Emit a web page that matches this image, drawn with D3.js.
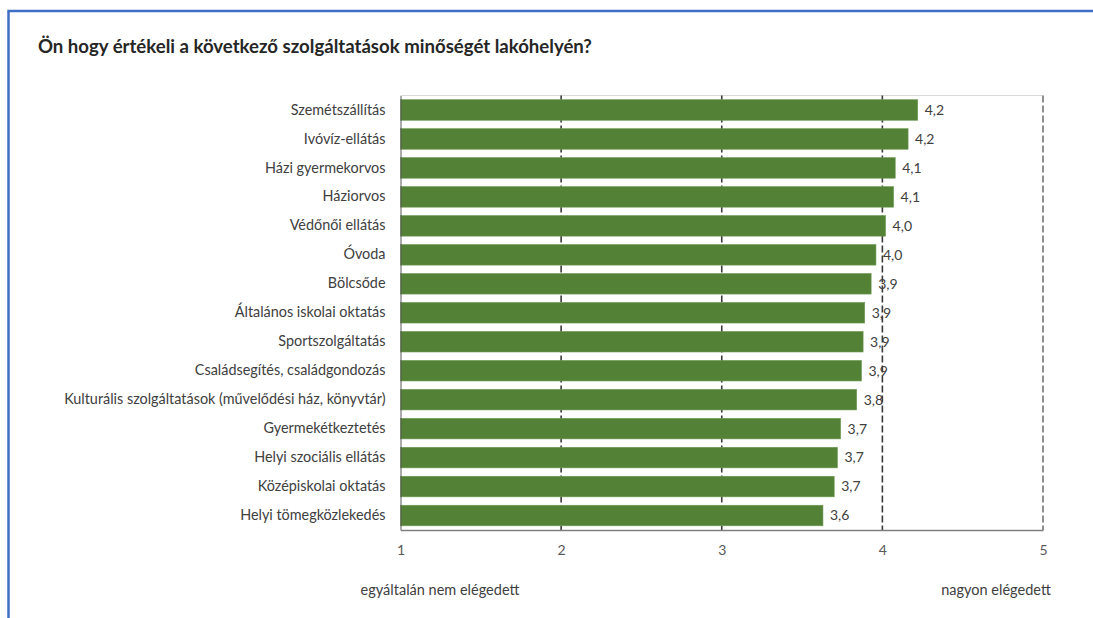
<!DOCTYPE html>
<html lang="hu">
<head>
<meta charset="utf-8">
<script src="https://cdn.jsdelivr.net/npm/d3@7"></script>
<style>
  html, body { margin: 0; padding: 0; background: #fff; }
  svg { display: block; font-family: Lato, "Noto Sans", sans-serif; }
</style>
</head>
<body>
<svg id="chart" width="1093" height="618"></svg>
<script>
// Szolgáltatások és az átlagos elégedettségi pontszámok (1–5 skála)
const categories = [
  "Szemétszállítás",
  "Ivóvíz-ellátás",
  "Házi gyermekorvos",
  "Háziorvos",
  "Védőnői ellátás",
  "Óvoda",
  "Bölcsőde",
  "Általános iskolai oktatás",
  "Sportszolgáltatás",
  "Családsegítés, családgondozás",
  "Kulturális szolgáltatások (művelődési ház, könyvtár)",
  "Gyermekétkeztetés",
  "Helyi szociális ellátás",
  "Középiskolai oktatás",
  "Helyi tömegközlekedés"
];
const scores = [4.22, 4.16, 4.08, 4.07, 4.02, 3.96, 3.93, 3.89, 3.88, 3.87, 3.84, 3.74, 3.72, 3.70, 3.63];
const tickValues = [1, 2, 3, 4, 5];
const titleText = "Ön hogy értékeli a következő szolgáltatások minőségét lakóhelyén?";
const lowLabel = "egyáltalán nem elégedett";
const highLabel = "nagyon elégedett";

const data = categories.map((c, i) => ({ name: c, value: scores[i] }));

const huLocale = d3.formatLocale({ decimal: ",", thousands: " ", grouping: [3], currency: ["", " Ft"] });
const fmt = huLocale.format(".1f");

const svg = d3.select("#chart");
const font = "Lato, 'Noto Sans', sans-serif";

// keret
svg.append("rect")
  .attr("x", 8.5).attr("y", 11)
  .attr("width", 1200).attr("height", 700)
  .attr("fill", "none")
  .attr("stroke", "#3f6fc4")
  .attr("stroke-width", 2.5);

// cím
svg.append("text")
  .attr("x", 38).attr("y", 53)
  .attr("font-size", 18.6).attr("font-weight", 700)
  .attr("fill", "#262626")
  .text(titleText);

const x = d3.scaleLinear().domain([1, 5]).range([400.5, 1043]);
const y = d3.scaleBand().domain(categories).range([95.5, 530])
  .paddingInner(0.29).paddingOuter(0.145);

// felső határoló vonal
svg.append("line")
  .attr("x1", x(1)).attr("x2", x(5))
  .attr("y1", 95.5).attr("y2", 95.5)
  .attr("stroke", "#d9d9d9").attr("stroke-width", 1);

// szaggatott rácsvonalak
svg.append("g").selectAll("line")
  .data(tickValues.filter(v => v > 1))
  .join("line")
  .attr("x1", d => x(d)).attr("x2", d => x(d))
  .attr("y1", 95.5).attr("y2", 530)
  .attr("stroke", d => d === 5 ? "#8f8f8f" : "#3a3a3a")
  .attr("stroke-width", d => d === 5 ? 2 : 1.6)
  .attr("stroke-dasharray", "7,3");

// oszlopok
svg.append("g").selectAll("rect")
  .data(data)
  .join("rect")
  .attr("x", x(1))
  .attr("y", d => y(d.name))
  .attr("width", d => x(d.value) - x(1))
  .attr("height", y.bandwidth())
  .attr("fill", "#538135")
  .attr("stroke", "#6f9a55")
  .attr("stroke-width", 0.6);

// értékcímkék
svg.append("g").selectAll("text")
  .data(data)
  .join("text")
  .attr("x", d => x(d.value) + 7)
  .attr("y", d => y(d.name) + y.bandwidth() / 2)
  .attr("dy", "0.35em")
  .attr("font-size", 14)
  .attr("fill", "#404040")
  .text(d => fmt(d.value));

// kategória tengely
const yAxis = svg.append("g")
  .attr("transform", `translate(${x(1)},0)`)
  .call(d3.axisLeft(y).tickSize(0).tickPadding(15));
yAxis.select(".domain").attr("stroke", "#595959").attr("stroke-width", 1);
yAxis.selectAll("text").attr("font-size", 14.4).attr("fill", "#404040")
  .attr("font-family", font);

// érték tengely
const xAxis = svg.append("g")
  .attr("transform", "translate(0,530)")
  .call(d3.axisBottom(x).tickValues(tickValues).tickSize(0).tickPadding(15).tickFormat(d3.format("d")));
xAxis.select(".domain").attr("stroke", "#7f7f7f").attr("stroke-width", 1.6);
xAxis.selectAll("text").attr("font-size", 14).attr("fill", "#595959")
  .attr("font-family", font);

// skála végpontjainak feliratai
svg.append("text")
  .attr("x", 440).attr("y", 595)
  .attr("text-anchor", "middle")
  .attr("font-size", 14.5).attr("fill", "#404040")
  .text(lowLabel);
svg.append("text")
  .attr("x", 996).attr("y", 595)
  .attr("text-anchor", "middle")
  .attr("font-size", 14.5).attr("fill", "#404040")
  .text(highLabel);
</script>
</body>
</html>
